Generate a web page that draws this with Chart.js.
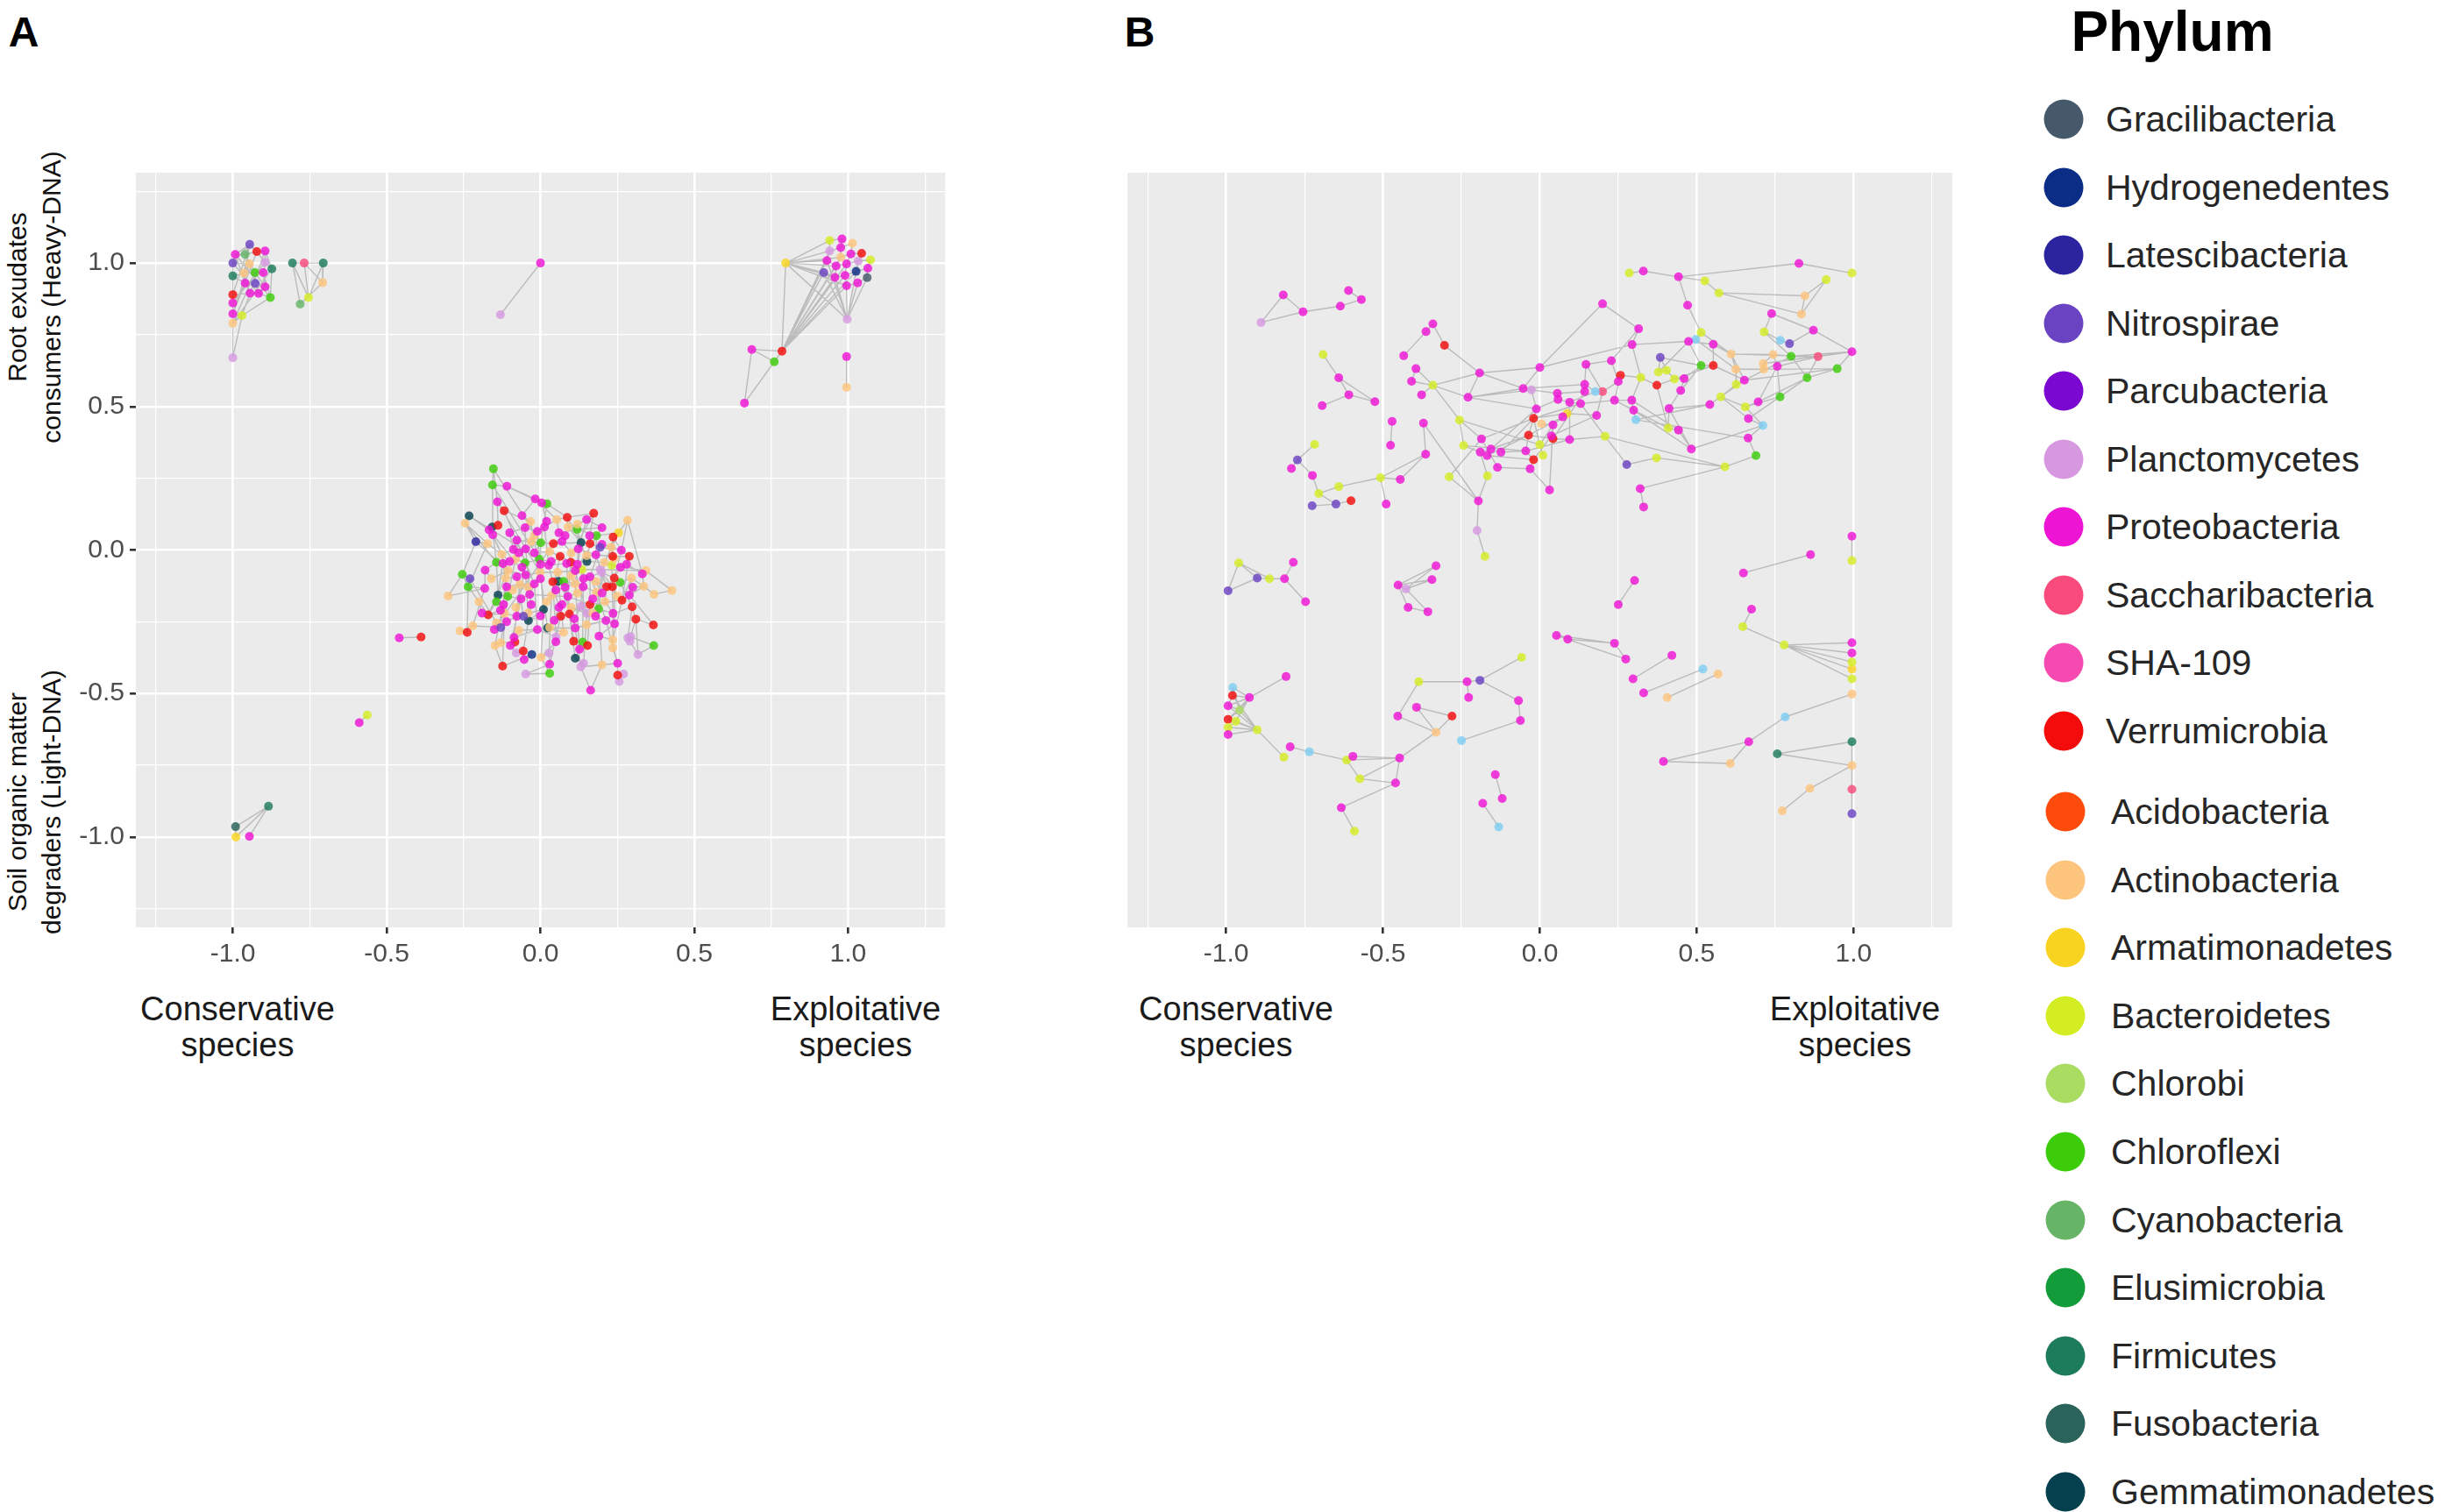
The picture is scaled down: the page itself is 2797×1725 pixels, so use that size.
<!DOCTYPE html>
<html>
<head>
<meta charset="utf-8">
<script src="https://cdn.jsdelivr.net/npm/chart.js@4.4.1/dist/chart.umd.min.js"></script>
<style>
  body { margin: 0; background: #fff; width: 2797px; height: 1725px; position: relative; overflow: hidden;
         font-family: "Liberation Sans", Arial, sans-serif; }
  canvas { position: absolute; }
  .t { position: absolute; transform: translate(-50%, -50%); white-space: nowrap; color: #111; }
  .tag { font-weight: bold; font-size: 48px; color: #000; }
  .ytitle { font-size: 30px; transform: translate(-50%, -50%) rotate(-90deg); }
  .xnote { font-size: 38px; line-height: 41px; text-align: center; color: #1a1a1a; }
  .leg { position: absolute; font-size: 41px; color: #262626; white-space: nowrap; transform: translateY(-50%); }
  .dot { position: absolute; width: 45px; height: 45px; border-radius: 50%; transform: translate(-50%, -50%); }
</style>
</head>
<body>
<div class="t tag" style="left:27px;top:36px">A</div>
<div class="t tag" style="left:1300px;top:36px">B</div>
<div class="t" style="left:2478px;top:36px;font-weight:bold;font-size:64px;color:#000">Phylum</div>

<div class="t ytitle" style="left:20px;top:339px">Root exudates</div>
<div class="t ytitle" style="left:59px;top:339px">consumers (Heavy-DNA)</div>
<div class="t ytitle" style="left:20px;top:915px">Soil organic matter</div>
<div class="t ytitle" style="left:59px;top:915px">degraders (Light-DNA)</div>

<div class="t xnote" style="left:271px;top:1172px">Conservative<br>species</div>
<div class="t xnote" style="left:976px;top:1172px">Exploitative<br>species</div>
<div class="t xnote" style="left:1410px;top:1172px">Conservative<br>species</div>
<div class="t xnote" style="left:2116px;top:1172px">Exploitative<br>species</div>

<canvas id="chartA" width="1110" height="1000" style="left:0;top:150px"></canvas>
<canvas id="chartB" width="1100" height="1000" style="left:1200px;top:150px"></canvas>
<div id="legend"></div>

<script>
// axis labels shown on both panels
const axisTicks = [-1, -0.5, 0, 0.5, 1];

// legend: phylum names, short codes used in the node lists, colours
const phylumNames = ['Gracilibacteria', 'Hydrogenedentes', 'Latescibacteria', 'Nitrospirae', 'Parcubacteria',
  'Planctomycetes', 'Proteobacteria', 'Saccharibacteria', 'SHA-109', 'Verrumicrobia',
  'Acidobacteria', 'Actinobacteria', 'Armatimonadetes', 'Bacteroidetes', 'Chlorobi', 'Chloroflexi',
  'Cyanobacteria', 'Elusimicrobia', 'Firmicutes', 'Fusobacteria', 'Gemmatimonadetes'];
const phylumCodes = ['Gra', 'Hyd', 'Lat', 'Nit', 'Par', 'Pla', 'Pro', 'Sac', 'SHA', 'Ver',
  'Aci', 'Act', 'Arm', 'Bac', 'Chb', 'Chl', 'Cya', 'Elu', 'Fir', 'Fus', 'Gem'];
const phylumColours = ['#46596b', '#0b2d85', '#2b249e', '#6a43c2', '#7a08d0', '#d699e0', '#ee14d4', '#f94a7c',
  '#f74ab0', '#f40c0c', '#fc4a0a', '#fcc47c', '#f8d420', '#d4ec22', '#aadc62', '#3ccc0a', '#66b466',
  '#129c3a', '#1c7c5c', '#2a625c', '#05404e'];
// light blue nodes appear in panel B but not in the legend
const unlistedColours = { Sky: '#7fcdf3' };

// ---------- Panel A nodes [x, y, phylum] and links [i, j] ----------
const aTopLeft = [
  [-0.945,1.065,'Nit'],[-0.992,1.03,'Pro'],[-0.96,1.03,'Cya'],[-0.922,1.04,'Ver'],[-0.895,1.042,'Pro'], // 0
  [-1.0,1.0,'Nit'],[-0.946,0.997,'Act'],[-0.895,1.002,'Pla'],[-1.0,0.955,'Fir'],[-0.964,0.965,'Act'], // 5
  [-0.928,0.967,'Chl'],[-0.901,0.967,'Pro'],[-0.873,0.98,'Fir'],[-0.96,0.93,'Pro'],[-0.927,0.929,'Nit'], // 10
  [-0.895,0.917,'Pro'],[-1.0,0.89,'Ver'],[-0.944,0.895,'Pro'],[-0.916,0.894,'Pro'],[-0.878,0.88,'Chl'], // 15
  [-1.0,0.861,'Pro'],[-1.0,0.823,'Pro'],[-0.97,0.817,'Bac'],[-1.0,0.79,'Act'],[-1.0,0.67,'Pla']        // 20
];
const aTopLeftLinks = [[0,1],[0,2],[0,3],[0,5],[0,9],[1,2],[1,5],[1,13],[2,3],[2,6],[2,10],[3,4],[3,7],[4,7],
  [4,12],[5,6],[5,8],[5,16],[6,9],[6,14],[7,11],[7,12],[8,9],[8,13],[8,20],[9,10],[9,17],[10,11],[10,15],
  [11,15],[11,19],[12,19],[13,14],[13,17],[13,21],[14,18],[15,18],[16,17],[16,20],[17,18],[17,22],[18,19],
  [19,22],[20,21],[21,22],[21,23],[22,23],[23,24],[20,24],[0,16],[3,21],[4,22],[12,23],[7,20],[10,23],
  [6,21],[1,19],[5,18],[22,24]];

const aTopLeftSmall = [[-0.806,1.0,'Fir'],[-0.768,1.0,'Sac'],[-0.706,1.0,'Fir'],[-0.708,0.932,'Act'],
  [-0.754,0.88,'Bac'],[-0.781,0.857,'Cya']];
const aTopLeftSmallLinks = [[0,4],[0,5],[0,1],[1,3],[1,4],[2,3],[2,4],[3,5],[1,2]];

const aPair = [[-0.13,0.82,'Pla'],[0.0,1.0,'Pro']];
const aPairLinks = [[0,1]];

const aTopRight = [
  [0.94,1.079,'Bac'],[0.98,1.084,'Pro'],[1.014,1.069,'Act'],[0.94,1.042,'Pla'],[0.976,1.054,'Pro'],   // 0
  [1.044,1.034,'Ver'],[0.976,1.02,'Act'],[1.009,1.032,'Pro'],[0.931,1.009,'Pro'],[0.961,0.99,'Pro'],   // 5
  [0.995,0.997,'Pro'],[1.033,1.007,'Pla'],[1.073,1.011,'Bac'],[0.921,0.967,'Nit'],[0.957,0.95,'Pro'],  // 10
  [0.99,0.957,'Pro'],[1.026,0.971,'Hyd'],[1.064,0.982,'Pro'],[1.062,0.949,'Gra'],[0.995,0.921,'Pro'],  // 15
  [1.031,0.931,'Pro'],[0.797,1.0,'Arm'],[0.997,0.804,'Pla'],[0.785,0.693,'Ver'],[0.687,0.699,'Pro'],   // 20
  [0.76,0.656,'Chl'],[0.663,0.512,'Pro'],[0.995,0.674,'Pro'],[0.995,0.567,'Act']                       // 25
];
const aTopRightLinks = [[0,1],[0,3],[1,4],[2,4],[2,7],[3,4],[3,8],[4,6],[5,7],[5,11],[6,7],[6,9],[7,10],
  [8,9],[9,10],[10,11],[11,12],[12,17],[13,14],[14,15],[15,16],[16,17],[17,18],[18,20],[19,20],[15,19],
  [9,14],[10,15],[11,16],[21,3],[21,8],[21,13],[21,9],[21,6],[21,0],[21,14],[21,19],[21,22],
  [23,8],[23,9],[23,13],[23,14],[23,15],[23,19],[23,3],[23,10],[23,6],[23,16],[23,21],
  [22,8],[22,13],[22,14],[22,19],[22,20],[22,18],[22,16],[23,24],[23,25],[24,25],[24,26],[25,26],[27,28]];

const aBottomLeft = [[-0.991,-0.964,'Fus'],[-0.884,-0.893,'Fir'],[-0.99,-1.0,'Arm'],[-0.946,-0.998,'Pro']];
const aBottomLeftLinks = [[0,1],[1,2],[1,3],[0,2]];

const aLowPair = [[-0.589,-0.602,'Pro'],[-0.563,-0.575,'Bac']];
const aLowPairLinks = [[0,1]];

const aCentre = [
  [-0.153,0.283,'Chl'],[-0.156,0.227,'Chl'],[-0.109,0.222,'Pro'],[-0.14,0.168,'Pro'],[-0.017,0.178,'Pro'],     // 0
  [0.004,0.164,'Pro'],[0.021,0.161,'Chl'],[-0.118,0.137,'Ver'],[-0.232,0.119,'Gem'],[-0.245,0.093,'Act'],      // 5
  [-0.138,0.086,'Ver'],[-0.157,0.08,'Gem'],[-0.167,0.07,'Pro'],[-0.155,0.053,'Pro'],[-0.032,0.099,'Act'],      // 10
  [-0.05,0.078,'Pro'],[-0.01,0.065,'Pro'],[0.013,0.08,'Pro'],[0.053,0.106,'Act'],[0.087,0.114,'Ver'],          // 15
  [0.173,0.128,'Ver'],[0.15,0.106,'Pro'],[0.2,0.078,'Pro'],[0.119,0.072,'Chl'],[0.182,0.05,'Chl'],             // 20
  [0.254,0.06,'Arm'],[0.236,0.045,'Ver'],[0.283,0.104,'Act'],[-0.21,0.029,'Lat'],[-0.172,0.022,'Act'],         // 25
  [-0.077,0.034,'Pro'],[0.001,0.025,'Chl'],[0.042,0.022,'Ver'],[0.132,0.026,'Gem'],[0.161,0.022,'Ver'],        // 30
  [0.194,0.009,'Nit'],[0.263,-0.001,'Pro'],[0.289,-0.022,'Ver'],[0.235,-0.022,'Ver'],[0.123,0.004,'Pro'],      // 35
  [0.18,-0.017,'Pro'],[-0.126,-0.015,'Act'],[-0.088,0.002,'Pro'],[-0.048,0.004,'Pro'],[0.064,-0.022,'Ver'],    // 40
  [0.099,-0.043,'Ver'],[0.151,-0.04,'Gem'],[-0.143,-0.043,'Chl'],[-0.122,-0.047,'Pro'],[-0.081,-0.032,'Act'],  // 45
  [-0.05,-0.045,'Chl'],[-0.004,-0.032,'Chl'],[0.027,-0.053,'Pro'],[0.085,-0.047,'Pro'],[0.135,-0.068,'Bac'],   // 50
  [0.208,-0.043,'Act'],[0.232,-0.053,'Bac'],[0.194,-0.068,'Pla'],[0.343,-0.072,'Act'],[0.331,-0.083,'Pro'],    // 55
  [-0.254,-0.085,'Chl'],[-0.229,-0.1,'Nit'],[-0.105,-0.072,'Act'],[-0.048,-0.087,'Pro'],[-0.001,-0.078,'Act'], // 60
  [0.056,-0.077,'Act'],[0.113,-0.072,'Pro'],[-0.113,-0.098,'Act'],[-0.077,-0.093,'Pro'],[0.058,-0.109,'Gem'],   // 65
  [0.04,-0.111,'Ver'],[0.075,-0.109,'Chl'],[0.161,-0.093,'Pro'],[0.199,-0.078,'Pla'],[0.24,-0.098,'Ver'],      // 70
  [0.259,-0.113,'Chl'],[0.296,-0.098,'Act'],[0.369,-0.154,'Act'],[0.427,-0.141,'Act'],[0.336,-0.127,'Act'],    // 75
  [-0.235,-0.128,'Chl'],[-0.181,-0.134,'Pro'],[-0.3,-0.16,'Act'],[-0.11,-0.128,'Pro'],[-0.067,-0.12,'Act'],    // 80
  [-0.02,-0.118,'Pro'],[0.113,-0.118,'Act'],[0.215,-0.128,'Ver'],[0.234,-0.128,'Ver'],[0.182,-0.147,'Act'],    // 85
  [0.139,-0.128,'Pro'],[-0.138,-0.157,'Gem'],[-0.106,-0.161,'Chl'],[-0.063,-0.17,'Pro'],[-0.035,-0.155,'Pro'], // 90
  [0.036,-0.159,'Act'],[0.089,-0.162,'Pro'],[0.161,-0.19,'Ver'],[0.289,-0.157,'Pro'],[0.265,-0.175,'Ver'],     // 95
  [-0.143,-0.18,'Chl'],[-0.17,-0.226,'Ver'],[-0.117,-0.221,'Act'],[-0.077,-0.231,'Pro'],[0.01,-0.207,'Gem'],   // 100
  [-0.039,-0.246,'Gem'],[-0.055,-0.231,'Nit'],[0.066,-0.231,'Ver'],[0.094,-0.223,'Ver'],[0.132,-0.196,'Pla'],  // 105
  [0.151,-0.221,'Pla'],[0.189,-0.205,'Chl'],[0.236,-0.221,'Pro'],[0.298,-0.198,'Ver'],[0.31,-0.241,'Ver'],     // 110
  [0.367,-0.261,'Ver'],[0.213,-0.246,'Pro'],[0.023,-0.272,'Gem'],[0.113,-0.272,'Pro'],[-0.143,-0.254,'Act'],   // 115
  [-0.15,-0.277,'Pro'],[-0.129,-0.27,'Nit'],[-0.22,-0.264,'Act'],[-0.262,-0.282,'Act'],[-0.238,-0.287,'Ver'],  // 120
  [0.075,-0.287,'Act'],[0.293,-0.302,'Pla'],[-0.459,-0.306,'Pro'],[-0.388,-0.303,'Ver'],[-0.148,-0.333,'Act'], // 125
  [-0.129,-0.323,'Act'],[-0.083,-0.321,'Ver'],[-0.098,-0.333,'Pro'],[-0.079,-0.359,'Pla'],[-0.056,-0.352,'Ver'], // 130
  [-0.053,-0.382,'Pro'],[-0.028,-0.364,'Hyd'],[-0.123,-0.405,'Ver'],[0.002,-0.374,'Act'],[0.028,-0.359,'Pla'], // 135
  [0.03,-0.398,'Pro'],[-0.048,-0.432,'Pla'],[0.03,-0.43,'Chl'],[0.108,-0.318,'Ver'],[0.137,-0.321,'Chl'],      // 140
  [0.153,-0.333,'Ver'],[0.127,-0.346,'Pro'],[0.113,-0.377,'Gem'],[0.14,-0.395,'Pla'],[0.131,-0.407,'Pla'],     // 145
  [0.2,-0.4,'Act'],[0.235,-0.313,'Act'],[0.235,-0.341,'Act'],[0.251,-0.395,'Pro'],[0.251,-0.436,'Ver'],        // 150
  [0.256,-0.458,'Pla'],[0.27,-0.432,'Pla'],[0.163,-0.489,'Pro'],[0.284,-0.306,'Pla'],[0.291,-0.318,'Pla'],     // 155
  [0.317,-0.364,'Pla'],[0.368,-0.333,'Chl'],[0.241,-0.257,'Pro'],[0.179,-0.231,'Pro'],[0.051,-0.303,'Pla'],    // 160
  [-0.01,-0.277,'Pro'],[-0.086,-0.305,'Pro'],[-0.02,-0.01,'Pro'],[0.03,-0.005,'Act'],[0.07,0.03,'Pro'],        // 165
  [0.1,-0.01,'Act'],[-0.06,-0.06,'Pro'],[0.0,-0.1,'Pro'],[0.05,-0.14,'Pro'],[0.1,-0.09,'Act'],                 // 170
  [0.14,-0.1,'Pro'],[-0.09,-0.14,'Act'],[-0.03,-0.19,'Pro'],[0.02,-0.18,'Act'],[0.07,-0.19,'Pro'],             // 175
  [0.12,-0.15,'Act'],[0.17,-0.17,'Pro'],[0.21,-0.18,'Act'],[-0.12,-0.19,'Pro'],[-0.08,-0.2,'Act'],             // 180
  [0.045,-0.245,'Pro'],[0.15,-0.26,'Act'],[-0.1,0.06,'Pro'],[0.06,0.06,'Pro'],[0.09,0.08,'Act'],               // 185
  [-0.06,0.12,'Pro'],[0.23,0.01,'Act'],[0.26,-0.06,'Pro'],[-0.18,-0.07,'Pro'],[-0.2,-0.18,'Act'],              // 190
  [0.0,-0.23,'Pro'],[0.11,-0.24,'Pro'],[-0.03,0.03,'Act'],[0.035,-0.04,'Pro'],[0.18,-0.11,'Act'],              // 195
  [-0.07,-0.01,'Pro'],[-0.02,0.05,'Act'],[0.02,0.1,'Pro'],[0.08,0.05,'Pro'],[0.12,0.09,'Act'],                 // 200
  [0.16,0.05,'Pro'],[0.2,0.02,'Pro'],[0.24,-0.03,'Act'],[0.28,-0.05,'Pro'],[0.15,-0.02,'Act'],                 // 205
  [-0.1,-0.04,'Pro'],[-0.16,-0.1,'Act'],[-0.13,-0.21,'Pro'],[-0.04,-0.22,'Act'],[0.0,-0.05,'Pro'],             // 210
  [0.06,-0.2,'Pro'],[0.1,-0.2,'Act'],[0.17,-0.22,'Act'],[0.2,-0.15,'Pro'],[0.25,-0.16,'Act'],                  // 215
  [-0.07,-0.28,'Act'],[0.05,-0.32,'Pro'],[0.19,-0.3,'Pro'],[-0.19,-0.22,'Pro'],[0.3,-0.13,'Pro'],              // 220
  [0.08,-0.13,'Pro'],[-0.04,-0.13,'Act'],[0.12,-0.05,'Pro'],[0.03,-0.27,'Act'],[-0.11,-0.25,'Pro']             // 225
];
const aCentreLinks = [[0,1],[1,2],[0,3],[1,13],[2,4],[2,5],[3,7],[4,5],[5,6],[6,19],[3,10],[7,14],[8,9],[8,12],
  [9,29],[9,28],[10,11],[11,12],[12,13],[13,41],[14,15],[15,16],[16,17],[17,18],[18,19],[19,20],[20,21],[21,22],
  [22,23],[23,24],[24,25],[25,26],[25,27],[26,36],[27,36],[28,29],[28,60],[29,41],[30,42],[30,31],[31,32],[32,33],
  [33,34],[34,35],[35,36],[36,37],[37,38],[38,40],[39,40],[39,33],[41,42],[42,43],[43,31],[44,45],[45,46],[46,55],
  [47,48],[48,49],[49,50],[50,51],[51,52],[52,53],[53,54],[54,57],[55,56],[56,58],[57,58],[58,59],[59,79],[60,61],
  [61,80],[62,63],[63,64],[64,65],[65,66],[66,72],[67,68],[68,84],[69,70],[70,71],[71,86],[72,73],[73,74],[74,75],
  [75,76],[76,79],[77,78],[77,79],[78,58],[80,81],[81,82],[82,60],[83,84],[84,85],[85,94],[86,90],[87,88],[88,89],
  [89,90],[91,92],[92,93],[93,94],[94,95],[95,96],[96,97],[97,99],[98,99],[98,76],[100,101],[101,102],[102,103],
  [103,104],[104,105],[105,106],[107,108],[108,109],[109,110],[110,111],[111,112],[112,113],[113,114],[114,115],
  [115,98],[116,112],[117,118],[118,116],[119,120],[120,121],[121,122],[122,123],[123,124],[124,80],[125,117],
  [126,114],[127,128],[129,130],[130,131],[131,132],[132,133],[133,134],[134,135],[135,136],[136,137],[137,129],
  [138,139],[139,140],[140,141],[141,142],[142,138],[143,144],[144,145],[145,146],[146,147],[147,148],[148,149],
  [149,150],[150,153],[151,152],[152,153],[153,154],[154,155],[155,156],[157,149],[157,150],[158,159],[159,160],
  [160,161],[161,126],[162,163],[163,116],[164,165],[165,166],[166,131],
  [0,31],[1,51],[3,64],[7,85],[8,51],[9,47],[12,63],[14,64],[17,52],[20,53],[22,66],[25,55],[27,59],[28,62],
  [29,80],[30,85],[31,64],[32,120],[33,86],[35,72],[36,74],[37,99],[40,87],[41,83],[43,94],[44,95],[45,96],
  [47,91],[48,100],[49,102],[50,103],[51,104],[52,107],[53,108],[54,109],[55,111],[56,112],[57,87],[60,80],
  [61,119],[62,101],[63,105],[64,117],[65,118],[66,110],[67,121],[68,106],[69,125],[70,164],[71,143],[72,97],
  [73,163],[74,162],[75,113],[81,122],[83,129],[84,166],[85,165],[86,146],[89,116],[90,144],[92,130],[93,132],
  [95,139],[96,143],[97,145],[99,151],[102,137],[104,138],[105,134],[107,140],[108,147],[110,148],[111,150],
  [112,152],[113,158],[114,160],[116,153],[118,149],[4,18],[6,31],[11,47],[13,62],[15,43],[16,51],[19,33],
  [21,39],[23,46],[24,40],[26,38],[38,56],[34,46],[42,49],[44,52],[45,54],[53,66],[64,85],[65,70],[69,95],
  [71,96],[72,89],[73,88],[74,87],[76,99],[79,98],
  [167,168],[167,31],[168,44],[169,170],[169,32],[170,39],[171,50],[171,63],[172,64],[172,85],[173,95],[173,70],
  [174,66],[174,86],[175,72],[175,90],[176,84],[176,83],[177,94],[177,105],[178,104],[178,95],[179,96],[179,107],
  [180,90],[180,96],[181,97],[181,89],[182,112],[182,87],[183,102],[183,100],[184,103],[184,93],[185,117],
  [185,107],[186,116],[186,118],[187,15],[187,42],[188,18],[188,23],[189,19],[189,33],[190,4],[190,14],[191,26],
  [191,38],[192,56],[192,74],[193,47],[193,81],[194,80],[194,101],[195,104],[195,105],[196,118],[196,109],
  [197,31],[197,30],[198,52],[198,51],[199,87],[199,175],
  [200,42],[200,49],[201,16],[201,197],[202,17],[202,5],[203,188],[203,32],[204,21],[204,189],[205,34],[205,20],
  [206,191],[206,36],[207,38],[207,56],[208,37],[208,59],[209,46],[209,40],[210,48],[210,41],[211,193],[211,62],
  [212,101],[212,183],[213,177],[213,105],[214,51],[214,172],[215,107],[215,185],[216,108],[216,110],[217,111],
  [217,163],[218,89],[218,199],[219,99],[219,88],[220,166],[220,165],[221,164],[221,138],[222,151],[222,162],
  [223,101],[223,194],[224,79],[224,98],[225,173],[225,86],[226,84],[226,85],[227,39],[227,66],[228,117],
  [228,185],[229,120],[229,103]];

// ---------- Panel B nodes and links ----------
const bTopLeft = [[-0.889,0.793,'Pla'],[-0.818,0.889,'Pro'],[-0.755,0.83,'Pro'],[-0.636,0.85,'Pro'],
  [-0.61,0.904,'Pro'],[-0.569,0.873,'Pro']];
const bTopLeftLinks = [[0,1],[1,2],[0,2],[2,3],[3,5],[4,5]];

const bUpperLeft = [[-0.691,0.681,'Bac'],[-0.641,0.6,'Pro'],[-0.609,0.541,'Pro'],[-0.526,0.517,'Pro'],
  [-0.694,0.503,'Pro']];
const bUpperLeftLinks = [[0,1],[1,2],[1,3],[2,3],[2,4]];

const bMain = [
  [-0.718,0.368,'Bac'],[-0.773,0.314,'Nit'],[-0.792,0.284,'Pro'],[-0.725,0.26,'Pro'],[-0.705,0.197,'Bac'],   // 0
  [-0.641,0.221,'Bac'],[-0.726,0.154,'Nit'],[-0.65,0.16,'Nit'],[-0.602,0.172,'Ver'],[-0.508,0.252,'Bac'],    // 5
  [-0.445,0.246,'Pro'],[-0.49,0.16,'Pro'],[-0.364,0.334,'Pro'],[-0.371,0.442,'Pro'],[-0.471,0.448,'Pro'],    // 10
  [-0.476,0.365,'Pro'],[-0.341,0.788,'Pro'],[-0.363,0.761,'Pro'],[-0.434,0.677,'Pro'],[-0.304,0.713,'Ver'],  // 15
  [-0.192,0.617,'Pro'],[-0.395,0.632,'Pro'],[-0.409,0.588,'Pro'],[-0.377,0.541,'Pro'],[-0.341,0.574,'Bac'], // 20
  [-0.229,0.532,'Pro'],[-0.256,0.453,'Bac'],[-0.186,0.387,'Pro'],[-0.243,0.364,'Bac'],[-0.19,0.341,'Pro'],   // 25
  [-0.156,0.352,'Pro'],[-0.168,0.329,'Pro'],[-0.124,0.341,'Pro'],[-0.135,0.288,'Pro'],[-0.167,0.258,'Bac'],  // 30
  [-0.289,0.255,'Bac'],[-0.196,0.171,'Pro'],[-0.2,0.068,'Pla'],[0.0,0.636,'Pro'],[-0.053,0.563,'Pro'],       // 35
  [-0.027,0.558,'Pla'],[-0.011,0.492,'Pro'],[-0.02,0.459,'Ver'],[-0.036,0.4,'Ver'],[-0.045,0.345,'Pro'],     // 40
  [-0.02,0.315,'Ver'],[-0.031,0.283,'Pro'],[0.0,0.367,'Bac'],[-0.175,-0.022,'Bac'],[0.285,0.965,'Bac'],      // 45
  [0.33,0.972,'Pro'],[0.442,0.952,'Pro'],[0.526,0.938,'Bac'],[0.571,0.896,'Bac'],[0.826,0.999,'Pro'],        // 50
  [0.995,0.965,'Bac'],[0.913,0.942,'Bac'],[0.845,0.886,'Act'],[0.834,0.822,'Act'],[0.739,0.824,'Pro'],       // 55
  [0.872,0.766,'Pro'],[0.471,0.853,'Pro'],[0.2,0.858,'Pro'],[0.315,0.771,'Pro'],[0.294,0.716,'Pro'],         // 60
  [0.514,0.758,'Bac'],[0.497,0.734,'Sky'],[0.474,0.727,'Pro'],[0.553,0.717,'Pro'],[0.715,0.76,'Bac'],        // 65
  [0.767,0.731,'Sky'],[0.796,0.719,'Nit'],[0.995,0.691,'Pro'],[0.887,0.674,'Sac'],[0.801,0.675,'Chl'],       // 70
  [0.948,0.632,'Chl'],[0.852,0.6,'Chl'],[0.766,0.534,'Chl'],[0.61,0.683,'Act'],[0.744,0.681,'Act'],          // 75
  [0.712,0.65,'Act'],[0.714,0.63,'Act'],[0.625,0.63,'Act'],[0.757,0.64,'Pro'],[0.514,0.643,'Chl'],           // 80
  [0.553,0.643,'Ver'],[0.652,0.592,'Pro'],[0.626,0.577,'Bac'],[0.577,0.534,'Bac'],[0.655,0.499,'Bac'],       // 85
  [0.696,0.516,'Pro'],[0.542,0.507,'Pro'],[0.665,0.458,'Pro'],[0.711,0.434,'Sky'],[0.664,0.39,'Pro'],        // 90
  [0.689,0.329,'Chl'],[0.59,0.29,'Bac'],[0.483,0.352,'Pro'],[0.442,0.418,'Pro'],[0.409,0.425,'Bac'],         // 95
  [0.412,0.493,'Pro'],[0.449,0.556,'Pro'],[0.46,0.597,'Pro'],[0.429,0.596,'Bac'],[0.404,0.626,'Bac'],        // 100
  [0.378,0.62,'Bac'],[0.384,0.671,'Nit'],[0.373,0.574,'Ver'],[0.322,0.601,'Bac'],[0.257,0.609,'Ver'],        // 105
  [0.25,0.587,'Pro'],[0.228,0.66,'Pro'],[0.147,0.647,'Pro'],[0.2,0.552,'Sac'],[0.177,0.552,'Sky'],           // 110
  [0.143,0.577,'Pro'],[0.143,0.552,'Pro'],[0.056,0.546,'Pro'],[0.058,0.525,'Pro'],[0.095,0.515,'Pro'],       // 115
  [0.13,0.51,'Pro'],[0.238,0.522,'Pro'],[0.293,0.522,'Pro'],[0.299,0.487,'Pro'],[0.306,0.454,'Sky'],         // 120
  [0.181,0.469,'Pro'],[0.087,0.476,'Arm'],[0.073,0.464,'Pro'],[0.042,0.436,'Pro'],[0.037,0.398,'Pro'],       // 125
  [0.042,0.388,'Ver'],[0.095,0.385,'Pro'],[0.208,0.396,'Bac'],[0.277,0.298,'Nit'],[0.372,0.321,'Bac'],       // 130
  [0.32,0.214,'Pro'],[0.331,0.15,'Pro'],[0.031,0.209,'Pro'],[0.005,0.44,'Act'],[0.01,0.33,'Bac']             // 135
];
const bMainLinks = [[0,1],[1,2],[1,3],[3,4],[4,5],[4,7],[6,7],[7,8],[5,9],[9,10],[9,11],[9,12],[10,12],[12,13],
  [14,15],[13,36],
  [16,17],[17,18],[16,19],[19,20],[20,38],[20,39],[20,25],[21,22],[21,24],[22,24],[23,24],[24,20],[24,25],[24,26],
  [25,41],[25,40],[26,27],[26,28],[28,29],[28,44],[29,30],[30,43],[31,45],[32,42],[27,33],[33,46],[34,36],[35,36],
  [35,27],[36,37],[37,48],[29,34],[31,43],[30,41],[32,44],[27,42],[25,39],[26,47],
  [38,39],[39,40],[40,41],[41,42],[42,43],[43,44],[44,45],[45,46],[47,42],[38,62],[38,64],[40,117],[41,118],
  [42,126],[43,130],[44,131],[45,129],[47,128],[46,137],[39,115],[42,120],[43,127],
  [49,50],[50,51],[51,52],[51,54],[54,55],[52,53],[53,57],[53,58],[56,57],[56,58],[57,58],[59,60],[60,72],[51,61],
  [61,65],[62,63],[63,64],[64,67],[65,66],[66,67],[67,68],[68,78],[69,74],[70,71],[71,60],[72,73],[72,75],[72,74],
  [73,74],[73,76],[74,76],[75,76],[76,77],[77,89],[78,79],[79,80],[80,81],[81,82],[82,78],[83,79],[83,73],[84,85],
  [85,86],[86,87],[87,88],[88,89],[89,90],[90,83],[91,100],[91,88],[92,93],[93,94],[94,95],[95,96],[93,97],[97,98],
  [98,99],[99,100],[100,101],[101,102],[102,103],[103,104],[104,105],[105,106],[106,84],[107,108],[108,109],
  [109,110],[110,111],[111,112],[112,113],[113,114],[114,115],[115,116],[116,117],[117,118],[118,119],[119,120],
  [120,121],[121,122],[122,123],[123,124],[124,91],[125,126],[126,127],[127,128],[128,129],[129,130],[130,131],
  [131,132],[132,133],[133,134],[134,96],[135,136],[135,96],[64,108],[63,111],[67,84],[68,85],[78,73],[80,72],
  [82,87],[84,102],[85,107],[86,75],[87,74],[89,93],[90,76],[92,77],[97,100],[99,107],[101,84],[103,85],[104,106],
  [105,67],[108,122],[109,121],[110,113],[112,115],[113,125],[114,119],[116,130],[119,131],[120,132],[121,99],
  [122,98],[123,97],[124,94],[125,129],[128,137],[132,96],[65,78],[66,82],[70,69],[69,59],[78,86],[79,74],[81,75],
  [83,77],[91,86],[88,92],[138,128],[139,47]];

const bMidLeft = [[-0.96,-0.045,'Bac'],[-0.901,-0.098,'Nit'],[-0.862,-0.1,'Bac'],[-0.814,-0.1,'Pro'],
  [-0.786,-0.043,'Pro'],[-0.747,-0.18,'Pro'],[-0.994,-0.142,'Nit']];
const bMidLeftLinks = [[6,0],[6,1],[0,1],[0,2],[1,2],[2,3],[3,4],[3,5]];

const bMid = [[-0.331,-0.055,'Pro'],[-0.344,-0.103,'Pro'],[-0.452,-0.122,'Pro'],[-0.427,-0.136,'Pla'],
  [-0.42,-0.2,'Pro'],[-0.357,-0.215,'Pro']];
const bMidLinks = [[2,0],[2,1],[3,0],[3,1],[2,4],[3,5],[4,5],[2,3]];

const bLower = [
  [-0.979,-0.479,'Sky'],[-0.98,-0.507,'Ver'],[-0.926,-0.514,'Pro'],[-0.994,-0.543,'Pro'],[-0.957,-0.558,'Chb'], // 0
  [-0.994,-0.59,'Ver'],[-0.969,-0.597,'Bac'],[-0.994,-0.618,'Bac'],[-0.994,-0.643,'Pro'],[-0.901,-0.627,'Bac'], // 5
  [-0.809,-0.441,'Pro'],[-0.816,-0.722,'Bac'],[-0.796,-0.686,'Pro'],[-0.735,-0.703,'Sky'],[-0.596,-0.719,'Pro'], // 10
  [-0.616,-0.732,'Bac'],[-0.574,-0.797,'Bac'],[-0.447,-0.725,'Pro'],[-0.46,-0.812,'Pro'],[-0.633,-0.898,'Pro'],  // 15
  [-0.591,-0.98,'Bac'],[-0.331,-0.635,'Act'],[-0.453,-0.579,'Pro'],[-0.393,-0.548,'Pro'],[-0.28,-0.579,'Ver'],   // 20
  [-0.386,-0.459,'Bac'],[-0.232,-0.459,'Pro'],[-0.191,-0.454,'Nit'],[-0.227,-0.514,'Pro'],[-0.058,-0.374,'Bac'], // 25
  [-0.068,-0.525,'Pro'],[-0.062,-0.594,'Pro'],[-0.25,-0.664,'Sky'],[-0.142,-0.783,'Pro'],[-0.12,-0.866,'Pro'],   // 30
  [-0.182,-0.883,'Pro'],[-0.131,-0.965,'Sky']                                                                    // 35
];
const bLowerLinks = [[0,1],[0,2],[1,2],[1,3],[2,3],[2,4],[2,5],[2,6],[3,4],[4,5],[4,9],[5,9],[6,9],[7,9],[8,9],
  [3,9],[1,9],[0,4],[5,6],[6,7],[7,8],[2,10],[9,11],[12,13],[13,15],[15,14],[15,17],[14,17],[15,16],[16,17],
  [16,18],[17,18],[18,19],[19,20],[17,21],[21,22],[21,23],[21,24],[23,24],[22,25],[25,26],[26,28],[27,29],[27,30],
  [30,31],[31,32],[33,34],[35,36],[26,27]];

const bLowerRight = [
  [0.302,-0.106,'Pro'],[0.25,-0.19,'Pro'],[0.053,-0.298,'Pro'],[0.089,-0.311,'Pro'],[0.238,-0.325,'Pro'],     // 0
  [0.274,-0.38,'Pro'],[0.421,-0.367,'Pro'],[0.297,-0.449,'Pro'],[0.331,-0.498,'Pro'],[0.52,-0.415,'Sky'],     // 5
  [0.568,-0.432,'Act'],[0.406,-0.514,'Act'],[0.649,-0.08,'Pro'],[0.863,-0.016,'Pro'],[0.995,0.048,'Pro'],     // 10
  [0.995,-0.037,'Bac'],[0.675,-0.206,'Pro'],[0.647,-0.267,'Bac'],[0.779,-0.331,'Bac'],[0.995,-0.323,'Pro'],   // 15
  [0.995,-0.359,'Pro'],[0.995,-0.39,'Bac'],[0.995,-0.415,'Arm'],[0.995,-0.449,'Bac'],[0.995,-0.502,'Act'],    // 20
  [0.782,-0.582,'Sky'],[0.666,-0.668,'Pro'],[0.394,-0.737,'Pro'],[0.607,-0.744,'Act'],[0.757,-0.71,'Fir'],    // 25
  [0.995,-0.668,'Fir'],[0.995,-0.751,'Act'],[0.861,-0.831,'Act'],[0.773,-0.909,'Act'],[0.995,-0.834,'Sac'],   // 30
  [0.995,-0.919,'Nit']                                                                                        // 35
];
const bLowerRightLinks = [[0,1],[2,4],[3,4],[2,5],[3,5],[4,5],[6,7],[8,9],[11,10],[12,13],[14,15],[16,17],
  [17,18],[18,19],[18,20],[18,21],[18,22],[18,23],[24,25],[25,26],[26,27],[26,28],[27,28],[29,30],[29,31],
  [31,32],[32,33],[30,31],[31,34],[34,35]];

// ---------- helpers ----------
function colourOf(code) {
  const i = phylumCodes.indexOf(code);
  return i >= 0 ? phylumColours[i] : unlistedColours[code];
}
function withAlpha(hex, a) {
  const n = parseInt(hex.slice(1), 16);
  return `rgba(${(n >> 16) & 255}, ${(n >> 8) & 255}, ${n & 255}, ${a})`;
}
function isMajor(v) {
  return axisTicks.some(t => Math.abs(t - v) < 1e-6);
}

function buildDatasets(groups) {
  const points = {};
  const links = [];
  groups.forEach(([nodes, pairs]) => {
    pairs.forEach(([i, j]) => {
      links.push({ x: nodes[i][0], y: nodes[i][1] }, { x: nodes[j][0], y: nodes[j][1] }, { x: null, y: null });
    });
    nodes.forEach(([x, y, p]) => {
      (points[p] = points[p] || []).push({ x, y });
    });
  });
  const sets = [{
    label: 'links', data: links, showLine: true, spanGaps: false, pointRadius: 0,
    borderColor: 'rgba(140,140,140,0.5)', borderWidth: 1.4, order: 2
  }];
  Object.keys(points).forEach(p => {
    sets.push({
      label: p, data: points[p], pointRadius: 5, pointHoverRadius: 5, borderWidth: 0,
      backgroundColor: withAlpha(colourOf(p), 0.82), order: 1
    });
  });
  return sets;
}

// grey ggplot panel behind the grid
const panelBg = {
  id: 'panelBg',
  beforeDraw(chart) {
    const { ctx, chartArea: a } = chart;
    ctx.save();
    ctx.fillStyle = '#ebebeb';
    ctx.fillRect(a.left, a.top, a.right - a.left, a.bottom - a.top);
    ctx.restore();
  }
};

function axis(showIt, fitFn) {
  return {
    type: 'linear', display: showIt, min: -1.315, max: 1.315,
    afterFit: fitFn,
    border: { display: false },
    grid: {
      color: '#ffffff',
      lineWidth: c => (c.tick && isMajor(c.tick.value)) ? 2.6 : 1.2,
      tickColor: c => (c.tick && isMajor(c.tick.value)) ? '#333333' : 'rgba(0,0,0,0)',
      tickLength: 7
    },
    ticks: {
      stepSize: 0.25, includeBounds: false, autoSkip: false, maxRotation: 0, maxTicksLimit: 30,
      color: '#4d4d4d', font: { size: 30, family: '"Liberation Sans", Arial, sans-serif' },
      padding: 6,
      callback: v => isMajor(v) ? v.toFixed(1) : ''
    }
  };
}

function makePanel(id, groups, showY, padding) {
  new Chart(document.getElementById(id), {
    type: 'scatter',
    data: { datasets: buildDatasets(groups) },
    options: {
      responsive: false, animation: false, devicePixelRatio: 1,
      layout: { padding },
      plugins: { legend: { display: false }, tooltip: { enabled: false } },
      scales: {
        x: axis(true, s => { s.height = 92; }),
        y: axis(showY, s => { s.width = showY ? 155 : 0; })
      }
    },
    plugins: [panelBg]
  });
}

makePanel('chartA', [
  [aTopLeft, aTopLeftLinks], [aTopLeftSmall, aTopLeftSmallLinks], [aPair, aPairLinks],
  [aTopRight, aTopRightLinks], [aBottomLeft, aBottomLeftLinks], [aLowPair, aLowPairLinks],
  [aCentre, aCentreLinks]
], true, { left: 0, right: 32, top: 47, bottom: 0 });

makePanel('chartB', [
  [bTopLeft, bTopLeftLinks], [bUpperLeft, bUpperLeftLinks], [bMain, bMainLinks],
  [bMidLeft, bMidLeftLinks], [bMid, bMidLinks], [bLower, bLowerLinks], [bLowerRight, bLowerRightLinks]
], false, { left: 86, right: 73, top: 47, bottom: 0 });

// legend column on the right: two blocks of rows
const legend = document.getElementById('legend');
phylumNames.forEach((name, i) => {
  const second = i >= 10;
  const y = second ? 926 + (i - 10) * 77.6 : 136 + i * 77.5;
  const dot = document.createElement('div');
  dot.className = 'dot';
  dot.style.left = (second ? 2356 : 2354) + 'px';
  dot.style.top = y + 'px';
  dot.style.background = phylumColours[i];
  legend.appendChild(dot);
  const txt = document.createElement('div');
  txt.className = 'leg';
  txt.style.left = (second ? 2408 : 2402) + 'px';
  txt.style.top = y + 'px';
  txt.textContent = name;
  legend.appendChild(txt);
});
</script>
</body>
</html>
